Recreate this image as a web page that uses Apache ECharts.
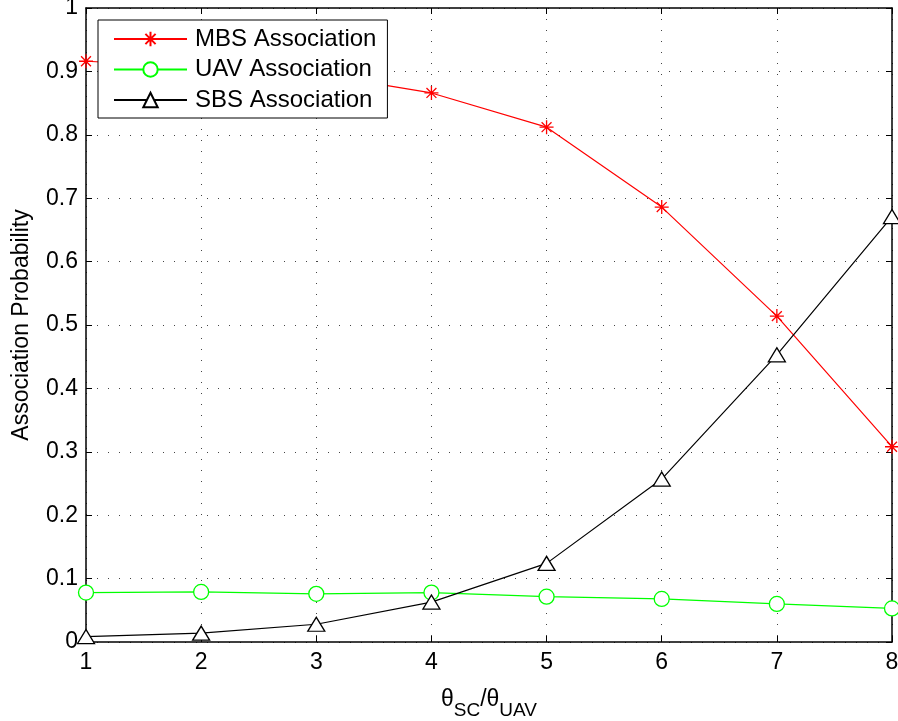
<!DOCTYPE html>
<html>
<head>
<meta charset="utf-8">
<script src="https://cdn.jsdelivr.net/npm/echarts@6/dist/echarts.min.js"></script>
<style>html,body{margin:0;padding:0;background:#fff}#c{width:898px;height:721px}</style>
</head>
<body>
<div id="c"></div>
<script>
const xValues = [1, 2, 3, 4, 5, 6, 7, 8];
const mbs = [0.916, 0.907, 0.896, 0.866, 0.812, 0.686, 0.514, 0.308];
const uav = [0.078, 0.079, 0.076, 0.078, 0.0715, 0.068, 0.060, 0.053];
const sbs = [0.0085, 0.014, 0.028, 0.063, 0.124, 0.257, 0.453, 0.671];
const seriesNames = ['MBS Association', 'UAV Association', 'SBS Association'];

const FONT = 'Liberation Sans, Arial, Helvetica, sans-serif';
const starPath = 'path://M0,-10L0,10M-10,0L10,0M-7.07,-7.07L7.07,7.07M-7.07,7.07L7.07,-7.07';

function pairs(vals) { return xValues.map((x, i) => [x, vals[i]]); }

const chart = echarts.init(document.getElementById('c'), null, {renderer: 'canvas'});
const gridLine = {show: true, lineStyle: {color: '#444', type: [1, 10], width: 1}};
const axisLine = {show: true, onZero: false, lineStyle: {color: '#000', width: 1.5}};
const axisTick = {show: true, inside: true, length: 6, lineStyle: {color: '#000', width: 1}};

chart.setOption({
  animation: false,
  backgroundColor: '#fff',
  grid: {left: 86, right: 6, top: 8, bottom: 79, containLabel: false, outerBoundsMode: 'none'},
  legend: {
    data: seriesNames,
    orient: 'vertical',
    left: 98, top: 20,
    padding: [7, 11, 6, 15],
    backgroundColor: '#fff',
    borderColor: '#000', borderWidth: 1, borderRadius: 0,
    itemWidth: 73, itemHeight: 18, itemGap: 6.5,
    textStyle: {fontFamily: FONT, fontSize: 24, color: '#000', lineHeight: 24, padding: [0, 0, 0, 3]}
  },
  xAxis: [{
    type: 'value', min: 1, max: 8, interval: 1, position: 'bottom',
    axisLine, axisTick, splitLine: gridLine,
    axisLabel: {fontFamily: FONT, fontSize: 23, color: '#000', margin: 9},
    name: '{t|θ}{s|SC}{t|/θ}{s|UAV}',
    nameLocation: 'middle', nameGap: 46,
    nameTextStyle: {
      rich: {
        t: {fontFamily: FONT, fontSize: 23, color: '#000', verticalAlign: 'top', lineHeight: 32},
        s: {fontFamily: FONT, fontSize: 19, color: '#000', verticalAlign: 'bottom', lineHeight: 32}
      }
    }
  }, {
    type: 'value', min: 1, max: 8, interval: 1, position: 'top',
    axisLine, axisTick, axisLabel: {show: false}, splitLine: {show: false}
  }],
  yAxis: [{
    type: 'value', min: 0, max: 1, interval: 0.1, position: 'left',
    axisLine, axisTick, splitLine: gridLine,
    axisLabel: {fontFamily: FONT, fontSize: 23, color: '#000', margin: 8},
    name: 'Association Probability', nameLocation: 'middle', nameGap: 53,
    nameTextStyle: {fontFamily: FONT, fontSize: 23, color: '#000'}
  }, {
    type: 'value', min: 0, max: 1, interval: 0.1, position: 'right',
    axisLine, axisTick, axisLabel: {show: false}, splitLine: {show: false}
  }],
  series: [{
    name: seriesNames[0], type: 'line', data: pairs(mbs),
    symbol: starPath, symbolSize: 14,
    lineStyle: {color: '#ff0000', width: 1.2},
    itemStyle: {color: 'rgba(0,0,0,0)', borderColor: '#ff0000', borderWidth: 1.3}
  }, {
    name: seriesNames[1], type: 'line', data: pairs(uav),
    symbol: 'circle', symbolSize: 15,
    lineStyle: {color: '#00ff00', width: 1.2},
    itemStyle: {color: '#fff', borderColor: '#00ff00', borderWidth: 1.3}
  }, {
    name: seriesNames[2], type: 'line', data: pairs(sbs),
    symbol: 'triangle', symbolSize: [17, 14],
    lineStyle: {color: '#000', width: 1.2},
    itemStyle: {color: '#fff', borderColor: '#000', borderWidth: 1.3}
  }]
});
</script>
</body>
</html>
